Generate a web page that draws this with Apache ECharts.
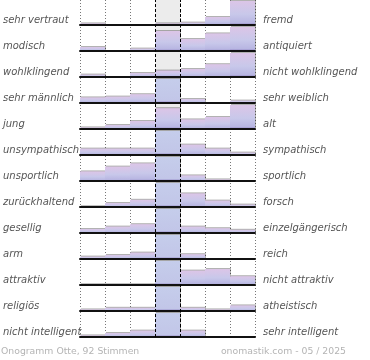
<!DOCTYPE html>
<html><head><meta charset="utf-8">
<script src="https://cdn.jsdelivr.net/npm/echarts@6/dist/echarts.min.js"></script>
<style>html,body{margin:0;padding:0;background:#fff}#c{width:370px;height:360px}</style>
</head><body><div id="c"></div>
<script>
const leftLabels = ['sehr vertraut','modisch','wohlklingend','sehr männlich','jung','unsympathisch','unsportlich','zurückhaltend','gesellig','arm','attraktiv','religiös','nicht intelligent'];
const rightLabels = ['fremd','antiquiert','nicht wohlklingend','sehr weiblich','alt','sympathisch','sportlich','forsch','einzelgängerisch','reich','nicht attraktiv','atheistisch','sehr intelligent'];
const scaleSteps = ['1','2','3','4','5','6','7'];
// percentage of votes per scale step, one list per row
const percentages = [
  [2, 0, 0, 2, 3, 10, 83],
  [5, 0, 3, 25, 15, 22, 30],
  [3, 0, 5, 8, 10, 16, 58],
  [7, 8, 11, 66, 5, 0, 3],
  [2, 5, 10, 26, 12, 15, 30],
  [8, 8, 8, 52, 13, 8, 3],
  [12, 18, 22, 39, 7, 2, 0],
  [1, 5, 9, 57, 17, 8, 3],
  [5, 8, 11, 58, 8, 6, 4],
  [3, 5, 8, 78, 6, 0, 0],
  [1, 1, 1, 45, 18, 20, 11],
  [2, 4, 4, 77, 4, 2, 7],
  [2, 5, 8, 77, 8, 0, 0]
];
const footerLeft = 'Onogramm Otte, 92 Stimmen';
const footerRight = 'onomastik.com - 05 / 2025';
const rowMax = 30;

const LEFT = 80, WIDTH = 175, ROW_H = 26, BAR_H = 24, N = leftLabels.length;
const pinkGrad = {type:'linear',x:0,y:0,x2:0,y2:1,colorStops:[
  {offset:0,color:'#dcc5e7'},{offset:0.55,color:'#c8c8ea'},{offset:0.9,color:'#b8b6e2'},{offset:1,color:'#8f82c2'}]};
const blueGrad = {type:'linear',x:0,y:0,x2:0,y2:1,colorStops:[
  {offset:0,color:'#c5cdeb'},{offset:0.9,color:'#c2c6e8'},{offset:1,color:'#8f82c2'}]};

const grid = [], xAxis = [], yAxis = [], series = [];
for (let i = 0; i < N; i++) {
  grid.push({left: LEFT, width: WIDTH, top: 1 + ROW_H * i, height: BAR_H});
  xAxis.push({type:'category', gridIndex:i, data:scaleSteps, z:4,
    axisLine:{show:true, lineStyle:{color:'#111', width:2}},
    axisTick:{show:false}, axisLabel:{show:false}, splitLine:{show:false}});
  yAxis.push({type:'value', gridIndex:i, min:0, max:rowMax, show:false});
  series.push({type:'bar', xAxisIndex:i, yAxisIndex:i, z:2, barCategoryGap:'0%', clip:true,
    silent:true, animation:false,
    data: percentages[i].map((v, j) => ({value:v, itemStyle:{
      color: (j === 3 && v > rowMax) ? blueGrad : pinkGrad,
      shadowColor:'rgba(0,0,0,0.3)', shadowOffsetX:1, shadowOffsetY:-1, shadowBlur:0}}))});
}
// frame grid for vertical guide lines and center band
const F = N;
grid.push({left: LEFT, width: WIDTH, top: 0, height: 1 + ROW_H * N - 2});
xAxis.push({type:'value', gridIndex:F, min:0, max:7, interval:1, z:0,
  axisLine:{show:false}, axisTick:{show:false}, axisLabel:{show:false},
  splitLine:{show:true, lineStyle:{color:'#777', type:[1,2], width:1}}});
yAxis.push({type:'value', gridIndex:F, min:0, max:1, show:false});
series.push({type:'scatter', xAxisIndex:F, yAxisIndex:F, z:1, symbolSize:0, data:[[0,0]], silent:true, animation:false,
  markArea:{silent:true, itemStyle:{color:'#ececec'}, data:[[{xAxis:3},{xAxis:4}]]}});
series.push({type:'scatter', xAxisIndex:F, yAxisIndex:F, z:6, symbolSize:0, data:[[0,0]], silent:true, animation:false,
  markLine:{silent:true, symbol:'none', label:{show:false}, animation:false,
    lineStyle:{color:'#000', type:[3,2], width:1}, data:[{xAxis:3},{xAxis:4}]}});
// label grid
const L = N + 1;
grid.push({left: LEFT, width: WIDTH, top: 7, height: ROW_H * N});
xAxis.push({type:'value', gridIndex:L, show:false});
const lblStyle = {fontStyle:'italic', fontSize:10, color:'#555', fontFamily:'DejaVu Sans'};
yAxis.push({type:'category', gridIndex:L, data:leftLabels, inverse:true, position:'left',
  axisLine:{show:false}, axisTick:{show:false}, splitLine:{show:false},
  axisLabel:Object.assign({align:'left', margin:79, interval:0}, lblStyle)});
yAxis.push({type:'category', gridIndex:L, data:rightLabels, inverse:true, position:'right',
  axisLine:{show:false}, axisTick:{show:false}, splitLine:{show:false},
  axisLabel:Object.assign({align:'left', margin:8, interval:0}, lblStyle)});

const footStyle = {fontSize:9.3, fontWeight:'normal', color:'#b4b4b4', fontFamily:'DejaVu Sans'};
const chart = echarts.init(document.getElementById('c'), null, {renderer:'canvas'});
chart.setOption({
  animation:false,
  title:[
    {text:footerLeft, left:0, top:347, padding:[0,0,0,1], textStyle:footStyle},
    {text:footerRight, right:24, top:347, padding:0, textStyle:footStyle}
  ],
  grid, xAxis, yAxis, series
});
</script></body></html>
